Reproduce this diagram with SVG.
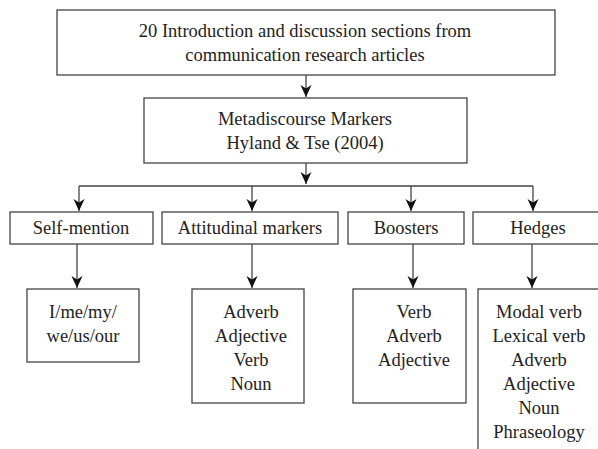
<svg xmlns="http://www.w3.org/2000/svg" width="598" height="449" viewBox="0 0 598 449">
<style>
  .box { fill: #fff; stroke: #444; stroke-width: 1.3; }
  .t { font-family: 'Liberation Serif', 'Times New Roman', Times, 'DejaVu Serif', serif; font-size: 18.5px; fill: #222; text-anchor: middle; }
  .c { fill: none; stroke: #444; stroke-width: 1.3; }
</style>
<defs>
  <marker id="ah" markerUnits="userSpaceOnUse" markerWidth="12" markerHeight="14" viewBox="0 0 12 14" refX="12" refY="7" orient="auto">
    <path d="M0,1.5 L12,7 L0,12.5 L3.5,7 z" fill="#111"/>
  </marker>
</defs>
<rect width="598" height="449" fill="#fff"/>
<g id="connectors">
  <line class="c" x1="306" y1="75" x2="306" y2="97" marker-end="url(#ah)"/>
  <line class="c" x1="306" y1="163" x2="306" y2="184" marker-end="url(#ah)"/>
  <line class="c" x1="79" y1="186" x2="533" y2="186"/>
  <line class="c" x1="79" y1="186" x2="79" y2="211" marker-end="url(#ah)"/>
  <line class="c" x1="252" y1="186" x2="252" y2="211" marker-end="url(#ah)"/>
  <line class="c" x1="411" y1="186" x2="411" y2="211" marker-end="url(#ah)"/>
  <line class="c" x1="533" y1="186" x2="533" y2="211" marker-end="url(#ah)"/>
  <line class="c" x1="77" y1="244" x2="77" y2="288" marker-end="url(#ah)"/>
  <line class="c" x1="252" y1="244" x2="252" y2="288" marker-end="url(#ah)"/>
  <line class="c" x1="413" y1="244" x2="413" y2="288" marker-end="url(#ah)"/>
  <line class="c" x1="532" y1="244" x2="532" y2="288" marker-end="url(#ah)"/>
</g>
<g id="source">
  <rect class="box" x="57" y="10" width="498" height="65"/>
  <text class="t" x="305" y="37">20 Introduction and discussion sections from</text>
  <text class="t" x="305" y="61">communication research articles</text>
</g>
<g id="metadiscourse">
  <rect class="box" x="144" y="98" width="323" height="65"/>
  <text class="t" x="305" y="125">Metadiscourse Markers</text>
  <text class="t" x="305" y="149">Hyland &amp; Tse (2004)</text>
</g>
<g id="self-mention">
  <rect class="box" x="10" y="212" width="143" height="32"/>
  <text class="t" x="81" y="234">Self-mention</text>
</g>
<g id="attitudinal">
  <rect class="box" x="162" y="212" width="176" height="32"/>
  <text class="t" x="250" y="234">Attitudinal markers</text>
</g>
<g id="boosters">
  <rect class="box" x="348" y="212" width="116" height="32"/>
  <text class="t" x="406" y="234">Boosters</text>
</g>
<g id="hedges">
  <rect class="box" x="473" y="212" width="140" height="32"/>
  <text class="t" x="538" y="234">Hedges</text>
</g>
<g id="self-mention-items">
  <rect class="box" x="27" y="289" width="112" height="73"/>
  <text class="t" x="83" y="318">I/me/my/</text>
  <text class="t" x="83" y="342">we/us/our</text>
</g>
<g id="attitudinal-items">
  <rect class="box" x="192" y="289" width="112" height="114"/>
  <text class="t" x="251" y="318">Adverb</text>
  <text class="t" x="251" y="342">Adjective</text>
  <text class="t" x="251" y="366">Verb</text>
  <text class="t" x="251" y="390">Noun</text>
</g>
<g id="boosters-items">
  <rect class="box" x="353" y="289" width="113" height="114"/>
  <text class="t" x="414" y="318">Verb</text>
  <text class="t" x="414" y="342">Adverb</text>
  <text class="t" x="414" y="366">Adjective</text>
</g>
<g id="hedges-items">
  <rect class="box" x="478" y="289" width="140" height="180"/>
  <text class="t" x="539" y="318">Modal verb</text>
  <text class="t" x="539" y="342">Lexical verb</text>
  <text class="t" x="539" y="366">Adverb</text>
  <text class="t" x="539" y="390">Adjective</text>
  <text class="t" x="539" y="414">Noun</text>
  <text class="t" x="539" y="438">Phraseology</text>
</g>
</svg>
